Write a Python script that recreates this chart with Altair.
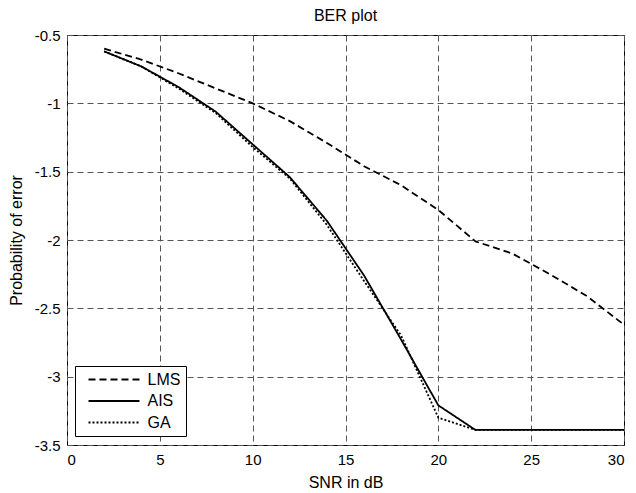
import altair as alt
import pandas as pd

snr = [2, 4, 6, 8, 10, 12, 14, 16, 18, 20, 22, 24, 26, 28, 30]
lms = [-0.60, -0.68, -0.78, -0.89, -1.00, -1.13, -1.29, -1.46, -1.60, -1.78, -2.01, -2.10, -2.25, -2.41, -2.62]
ais = [-0.62, -0.73, -0.88, -1.06, -1.30, -1.54, -1.86, -2.26, -2.73, -3.21, -3.39, -3.39, -3.39, -3.39, -3.39]
ga = [-0.62, -0.73, -0.89, -1.07, -1.32, -1.55, -1.89, -2.30, -2.70, -3.30, -3.39, -3.39, -3.39, -3.39, -3.39]
methods = ["LMS", "AIS", "GA"]
x_ticks = [0, 5, 10, 15, 20, 25, 30]
y_ticks = [-3.5, -3, -2.5, -2, -1.5, -1, -0.5]

rows = []
for name, vals in zip(methods, [lms, ais, ga]):
    for s, v in zip(snr, vals):
        rows.append({"snr": s, "ber": v, "method": name})
df = pd.DataFrame(rows)

FONT = "Liberation Sans"

chart = alt.Chart(df).mark_line(color="black", strokeWidth=1.8).encode(
    x=alt.X("snr:Q", scale=alt.Scale(domain=[0, 30], nice=False),
            axis=alt.Axis(values=x_ticks, title="SNR in dB", labelPadding=7, titlePadding=7)),
    y=alt.Y("ber:Q", scale=alt.Scale(domain=[-3.5, -0.5], nice=False, zero=False),
            axis=alt.Axis(values=y_ticks, title="Probability of error",
                          labelExpr="toString(datum.value)", labelPadding=7, titlePadding=9.5)),
    strokeDash=alt.StrokeDash("method:N",
                              scale=alt.Scale(domain=methods, range=[[7, 4], [1, 0], [2, 2]]),
                              legend=alt.Legend(title=None, orient="none", legendX=8, legendY=331,
                                                symbolType="M0,0H10.2", symbolSize=100,
                                                symbolStrokeWidth=2, symbolStrokeColor="black",
                                                symbolFillColor="transparent",
                                                labelFontSize=16, labelFont=FONT, labelColor="black",
                                                labelOffset=51, rowPadding=5.5, padding=5.5,
                                                labelExpr="datum.label + ' '",
                                                strokeColor="black", fillColor="white")),
    order=alt.Order("snr:Q"),
).properties(
    width=557, height=410,
    title=alt.TitleParams("BER plot", fontSize=16, font=FONT, fontWeight="normal", color="black", offset=4),
    padding={"left": 0, "top": 0, "right": 0, "bottom": 0},
).configure_view(
    stroke="black", strokeWidth=1
).configure_axis(
    labelFont=FONT, titleFont=FONT, labelFontSize=15, titleFontSize=16,
    labelColor="black", titleColor="black", titleFontWeight="normal",
    domain=False, ticks=False,
    grid=True, gridColor="#555555", gridDash=[6, 4], gridOpacity=1, gridWidth=1,
)

chart.save("out.html", embed_options={"renderer": "svg", "actions": False})
